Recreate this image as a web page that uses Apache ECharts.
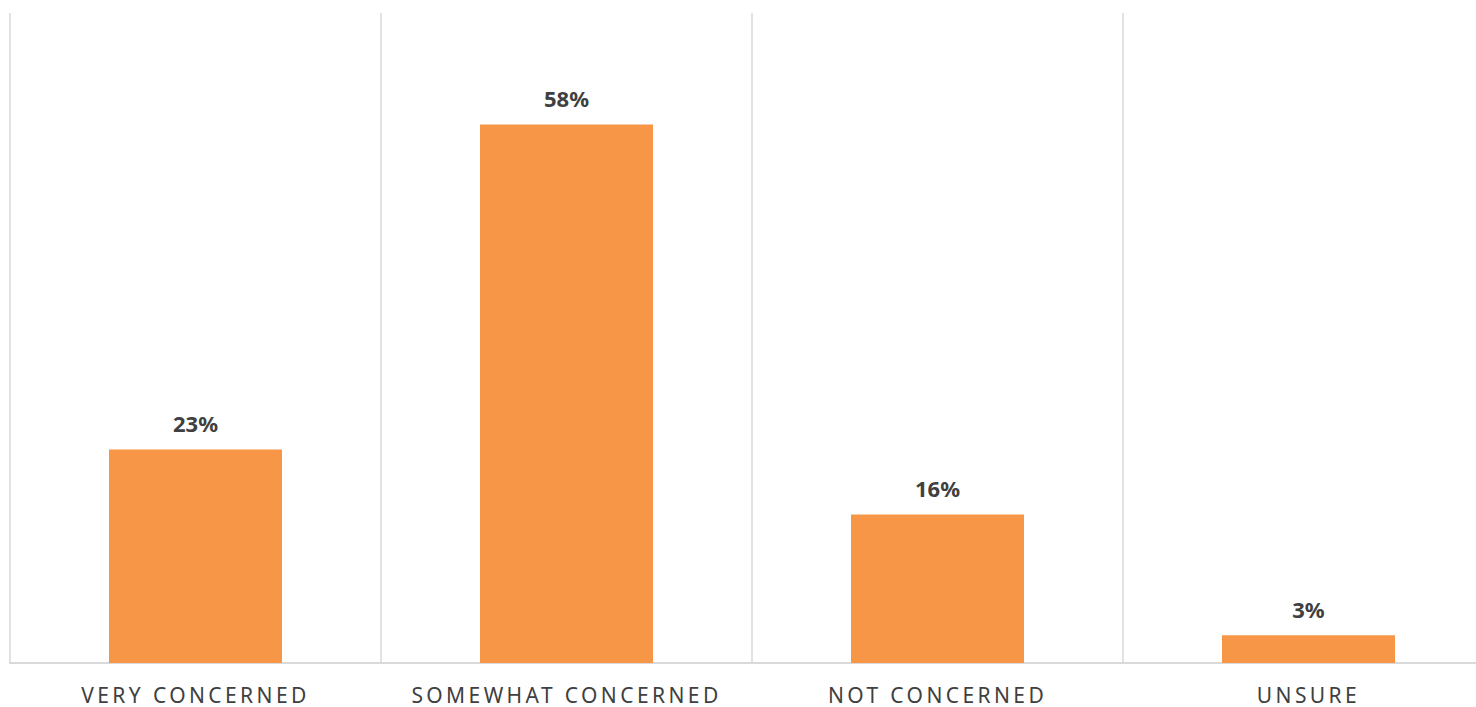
<!DOCTYPE html>
<html>
<head>
<meta charset="utf-8">
<script src="https://cdn.jsdelivr.net/npm/echarts@6/dist/echarts.min.js"></script>
<style>
html,body{margin:0;padding:0;background:#fff;}
#chart{width:1476px;height:707px;}
#chart text{letter-spacing:3.4px;}
#chart text[style*="bold"]{letter-spacing:0;}
</style>
</head>
<body>
<div id="chart"></div>
<script>
const categories = ['VERY CONCERNED', 'SOMEWHAT CONCERNED', 'NOT CONCERNED', 'UNSURE'];
const values = [23, 58, 16, 3];

const chart = echarts.init(document.getElementById('chart'), null, {renderer: 'svg'});
chart.setOption({
  animation: false,
  backgroundColor: '#ffffff',
  grid: {left: 10, top: 13, right: -18, bottom: 44, containLabel: false, outerBoundsMode: 'none'},
  xAxis: {
    type: 'category',
    data: categories,
    boundaryGap: true,
    axisLine: {show: true, lineStyle: {color: '#d9d9d9', width: 2}},
    axisTick: {show: false},
    splitLine: {show: true, lineStyle: {color: '#d9d9d9', width: 1.5}},
    axisLabel: {
      color: '#404040', fontSize: 21, fontFamily: 'Noto Sans', margin: 21
    }
  },
  yAxis: {
    type: 'value', min: 0, max: 70,
    show: false,
    splitLine: {show: false}
  },
  series: [{
    type: 'bar',
    data: values,
    barWidth: 173,
    itemStyle: {color: '#F79646'},
    label: {
      show: true, position: 'top', distance: 15,
      formatter: '{c}%',
      color: '#404040', fontSize: 22, fontWeight: 'bold', fontFamily: 'Noto Sans'
    }
  }]
});
</script>
</body>
</html>
